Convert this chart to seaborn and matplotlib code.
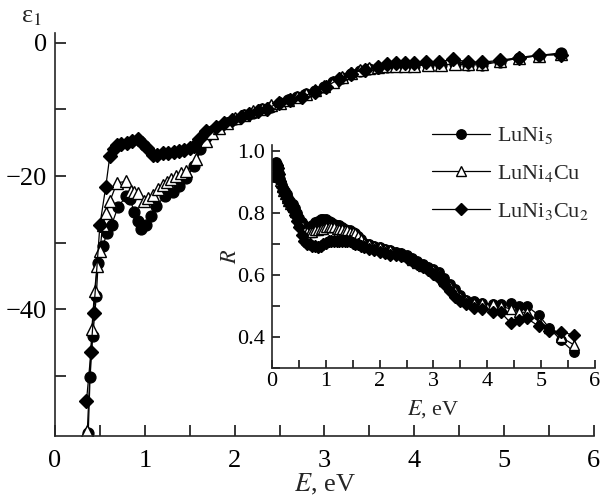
import matplotlib
matplotlib.use("Agg")
import matplotlib.pyplot as plt
import seaborn as sns
import numpy as np
from matplotlib.ticker import MultipleLocator

# ---------------- data ----------------
labels = ["LuNi$_5$", "LuNi$_4$Cu", "LuNi$_3$Cu$_2$"]

# main panel: eps1 vs E
E_ni5 = [0.37, 0.39, 0.42, 0.46, 0.48, 0.53, 0.58, 0.63, 0.70, 0.79, 0.84, 0.88, 0.92, 0.96, 1.01,
         1.07, 1.13, 1.22, 1.31, 1.38, 1.46, 1.55, 1.62, 1.68, 1.75, 1.83, 1.92, 2.0, 2.1, 2.2,
         2.3, 2.4, 2.5, 2.6, 2.7, 2.8, 2.9, 3.0, 3.1, 3.2, 3.3, 3.4, 3.5, 3.6, 3.7, 3.8, 3.9,
         4.0, 4.15, 4.3, 4.45, 4.6, 4.76, 4.96, 5.17, 5.39, 5.63]
eps_ni5 = [-58.5, -50.2, -44, -38, -33, -30.5, -28.6, -27.3, -24.7, -23, -23.5, -25.4, -26.8, -27.9, -27.3,
           -26, -24.5, -23, -22.4, -21.5, -20.3, -18.5, -16, -14.2, -13.3, -12.6, -12.0, -11.4, -10.9, -10.5,
           -10.0, -9.6, -9.0, -8.5, -8.1, -7.7, -7.2, -6.6, -5.9, -5.2, -4.6, -4.2, -3.9, -3.7, -3.6, -3.5, -3.4,
           -3.4, -3.3, -3.3, -3.2, -3.3, -3.3, -2.8, -2.3, -1.9, -1.5]

E_ni4cu = [0.36, 0.41, 0.44, 0.47, 0.50, 0.53, 0.57, 0.61, 0.69, 0.79, 0.85, 0.88, 0.92, 0.99, 1.04,
           1.09, 1.15, 1.2, 1.25, 1.29, 1.35, 1.4, 1.46, 1.57, 1.68, 1.75, 1.83, 1.92, 2.0, 2.1,
           2.2, 2.3, 2.4, 2.5, 2.6, 2.7, 2.8, 2.9, 3.0, 3.1, 3.2, 3.3, 3.4, 3.5, 3.6, 3.7, 3.8,
           3.9, 4.0, 4.15, 4.3, 4.45, 4.6, 4.76, 4.96, 5.17, 5.39, 5.63]
eps_ni4cu = [-58.2, -43, -37.3, -33.5, -31.3, -27.3, -25.5, -23.8, -21, -20.8, -22.3, -22.4, -22.5, -23.8, -23.3,
             -22.8, -22, -21.3, -20.9, -20.5, -20, -19.5, -19.3, -17.5, -14.8, -13.6, -12.8, -12.0, -11.3, -10.8,
             -10.3, -9.9, -9.4, -9.0, -8.6, -8.1, -7.6, -7.1, -6.5, -5.8, -5.1, -4.5, -4.1, -3.8, -3.6, -3.5, -3.4,
             -3.4, -3.4, -3.3, -3.3, -3.2, -3.2, -3.1, -2.7, -2.3, -1.9, -1.7]

E_ni3cu2 = [0.35, 0.40, 0.43, 0.50, 0.565, 0.61, 0.66, 0.69, 0.74, 0.80, 0.86, 0.92, 0.97, 1.02, 1.09,
            1.14, 1.2, 1.26, 1.32, 1.38, 1.44, 1.5, 1.55, 1.6, 1.68, 1.79, 1.88, 1.97, 2.07, 2.16,
            2.26, 2.36, 2.49, 2.62, 2.75, 2.9, 3.02, 3.16, 3.3, 3.45, 3.6, 3.7, 3.8, 3.9, 4.0,
            4.13, 4.28, 4.43, 4.6, 4.76, 4.96, 5.17, 5.39, 5.63]
eps_ni3cu2 = [-53.8, -46.4, -40.6, -27.3, -21.6, -17, -16.0, -15.3, -15.2, -15.0, -14.8, -14.4, -15.0, -15.8, -16.8,
              -16.9, -16.6, -16.5, -16.4, -16.3, -16.1, -15.8, -15.5, -14.5, -13.3, -12.6, -12.1, -11.6, -11.1, -10.7,
              -10.3, -9.9, -9.0, -8.5, -8.1, -7.3, -6.6, -5.4, -4.6, -4.0, -3.6, -3.2, -3.0, -3.0, -3.0,
              -2.9, -2.9, -2.4, -2.9, -2.9, -2.6, -2.2, -1.8, -1.8]

# inset: R vs E
E_R = [0.03, 0.05, 0.07, 0.09, 0.11, 0.13, 0.15, 0.18, 0.21, 0.24,
       0.27, 0.30, 0.34, 0.38, 0.42, 0.46, 0.50, 0.55, 0.60, 0.65,
       0.70, 0.75, 0.80, 0.85, 0.90, 0.95, 1.00, 1.05, 1.10, 1.15,
       1.2, 1.25, 1.3, 1.35, 1.4, 1.45, 1.5, 1.55, 1.6, 1.65,
       1.7, 1.8, 1.9, 2.0, 2.1, 2.2, 2.3, 2.4, 2.5, 2.6,
       2.7, 2.8, 2.9, 3.0, 3.1, 3.2, 3.3, 3.4, 3.5, 3.6,
       3.75, 3.9, 4.1, 4.25, 4.44, 4.6, 4.74, 4.96, 5.15, 5.37, 5.61]
R_ni5 = [0.93, 0.96, 0.965, 0.96, 0.95, 0.93, 0.91, 0.89, 0.88, 0.87,
         0.86, 0.85, 0.84, 0.83, 0.815, 0.80, 0.785, 0.77, 0.76, 0.755,
         0.755, 0.76, 0.77, 0.775, 0.78, 0.78, 0.78, 0.775, 0.77, 0.765,
         0.76, 0.76, 0.755, 0.75, 0.745, 0.745, 0.74, 0.735, 0.725, 0.715,
         0.705, 0.70, 0.695, 0.69, 0.685, 0.68, 0.675, 0.67, 0.665, 0.655,
         0.645, 0.635, 0.625, 0.62, 0.61, 0.59, 0.57, 0.555, 0.535, 0.52,
         0.515, 0.51, 0.505, 0.505, 0.51, 0.50, 0.50, 0.47, 0.43, 0.39, 0.352]
R_ni4cu = [0.92, 0.95, 0.955, 0.95, 0.94, 0.925, 0.905, 0.885, 0.87, 0.86,
           0.85, 0.84, 0.83, 0.82, 0.805, 0.79, 0.775, 0.76, 0.745, 0.74,
           0.74, 0.74, 0.745, 0.745, 0.75, 0.75, 0.755, 0.755, 0.755, 0.755,
           0.75, 0.75, 0.75, 0.745, 0.745, 0.74, 0.74, 0.735, 0.725, 0.715,
           0.705, 0.70, 0.695, 0.69, 0.685, 0.68, 0.675, 0.67, 0.66, 0.65,
           0.64, 0.63, 0.625, 0.615, 0.60, 0.58, 0.565, 0.55, 0.53, 0.52,
           0.51, 0.51, 0.505, 0.50, 0.49, 0.48, 0.48, 0.45, 0.43, 0.40, 0.375]
R_ni3cu2 = [0.92, 0.955, 0.96, 0.955, 0.945, 0.925, 0.905, 0.885, 0.87, 0.86,
            0.85, 0.84, 0.825, 0.81, 0.795, 0.775, 0.755, 0.73, 0.71, 0.70,
            0.70, 0.695, 0.695, 0.69, 0.695, 0.70, 0.705, 0.71, 0.71, 0.71,
            0.71, 0.71, 0.71, 0.71, 0.71, 0.71, 0.705, 0.70, 0.70, 0.695,
            0.69, 0.685, 0.68, 0.675, 0.67, 0.665, 0.665, 0.66, 0.655, 0.645,
            0.635, 0.625, 0.615, 0.605, 0.59, 0.57, 0.55, 0.53, 0.515, 0.505,
            0.495, 0.49, 0.48, 0.48, 0.445, 0.455, 0.46, 0.435, 0.42, 0.417, 0.406]

main_series = [(E_ni5, eps_ni5), (E_ni4cu, eps_ni4cu), (E_ni3cu2, eps_ni3cu2)]
inset_series = [(E_R, R_ni5), (E_R, R_ni4cu), (E_R, R_ni3cu2)]
marker_styles = [dict(marker="o", mfc="black"), dict(marker="^", mfc="white"), dict(marker="D", mfc="black")]
marker_sizes_main = [7.8, 8.2, 6.8]
marker_sizes_inset = [6.8, 7.2, 6.0]

# ---------------- style ----------------
sns.set_theme(style="ticks")
plt.rcParams["font.family"] = ["Liberation Serif", "DejaVu Serif"]
plt.rcParams["mathtext.fontset"] = "stix"
plt.rcParams["axes.linewidth"] = 1.2

fig = plt.figure(figsize=(6.02, 4.98), dpi=100)
ax = fig.add_axes([0.0914, 0.1245, 0.895, 0.8095])

for (x, y), ms, sz in zip(main_series, marker_styles, marker_sizes_main):
    sns.lineplot(x=x, y=y, ax=ax, color="black", lw=0.9, sort=False, estimator=None,
                 marker=ms["marker"], markerfacecolor=ms["mfc"], markeredgecolor="black",
                 markeredgewidth=1.0, markersize=sz)

ax.set_xlim(0, 6)
ax.set_ylim(-59, 1.5)
ax.xaxis.set_major_locator(MultipleLocator(1))
ax.xaxis.set_minor_locator(MultipleLocator(0.5))
ax.yaxis.set_major_locator(MultipleLocator(20))
ax.yaxis.set_minor_locator(MultipleLocator(10))
ax.tick_params(which="both", direction="in", length=8, width=1.1, colors="black", labelsize=19)
ax.tick_params(axis="x", pad=10)
ax.tick_params(axis="y", pad=6)
ax.set_yticks([-40, -20, 0])
ax.set_yticklabels(["\u221240", "\u221220", "0"])
sns.despine(ax=ax)
ax.set_xlabel("$E$, eV", fontsize=19, labelpad=0)
ax.set_ylabel("")
fig.text(0.052, 0.965, "\u03b5$_1$", fontsize=19, ha="center", va="center")

# inset
axi = fig.add_axes([0.452, 0.261, 0.536, 0.448])
axi.patch.set_alpha(0)
for (x, y), ms, sz, lab in zip(inset_series, marker_styles, marker_sizes_inset, labels):
    sns.lineplot(x=x, y=y, ax=axi, color="black", lw=0.9, sort=False, estimator=None,
                 marker=ms["marker"], markerfacecolor=ms["mfc"], markeredgecolor="black",
                 markeredgewidth=1.0, markersize=sz, label=lab, legend=False)
handles = axi.get_lines()[:3]

axi.set_xlim(0, 6)
axi.set_ylim(0.3, 1.02)
axi.xaxis.set_major_locator(MultipleLocator(1))
axi.xaxis.set_minor_locator(MultipleLocator(0.5))
axi.yaxis.set_minor_locator(MultipleLocator(0.1))
axi.set_yticks([0.4, 0.6, 0.8, 1.0])
axi.set_yticklabels(["0.4", "0.6", "0.8", "1.0"])
axi.tick_params(which="both", direction="in", length=6, width=1.1, colors="black", labelsize=16)
axi.tick_params(axis="x", pad=3)
axi.tick_params(axis="y", pad=5)
sns.despine(ax=axi)
axi.set_xlabel("$E$, eV", fontsize=16, labelpad=5)
axi.set_ylabel("$R$", fontsize=16, labelpad=-3)

leg = fig.legend(handles, labels, loc="upper left", bbox_to_anchor=(0.718, 0.748),
                 frameon=False, fontsize=16, handlelength=2.6, handletextpad=0.3,
                 labelspacing=0.75, borderpad=0.0, borderaxespad=0.0)

fig.savefig("out.png", dpi=100)
